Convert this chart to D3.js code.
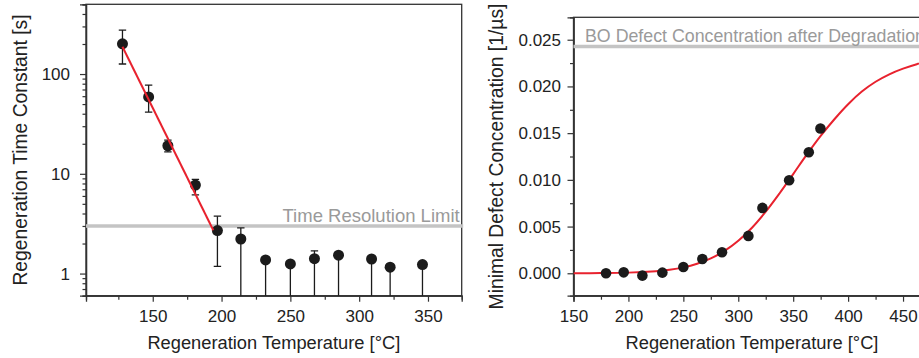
<!DOCTYPE html>
<head>
<title>Regeneration charts</title>
<script src="https://d3js.org/d3.v7.min.js"></script>
<style>
  body { margin: 0; background: #fff; }
  text { font-family: "Liberation Sans", Arial, sans-serif; fill: #222; }
</style>
</head>
<body>
<div id="my_dataviz"></div>
<script>

// left panel: regeneration time constant vs temperature
const leftTemp  = [128, 147, 161, 181, 197, 214, 232, 250, 267.5, 285, 309, 322.5, 346];
const leftTau   = [201, 59, 19.1, 7.7, 2.7, 2.22, 1.37, 1.25, 1.41, 1.53, 1.40, 1.16, 1.23];
const leftTauHi = [276, 77.5, 21.8, 8.8, 3.76, 2.87, 1.45, 1.32, 1.69, 1.62, 1.48, 1.22, 1.30];
const leftTauLo = [126, 41.6, 16.6, 6.15, 1.18, 0, 0, 0, 0, 0, 0, 0, 0];   // 0 = bar runs below axis
const leftFitTemp = [128, 194];
const leftFitTau  = [188, 2.72];
const timeLimit = 3;
const leftXTicks = [150, 200, 250, 300, 350];
const leftYTicks = [1, 10, 100];

// right panel: minimal defect concentration vs temperature
const rightTemp = [179.6, 195.7, 212.7, 230.9, 250, 267.3, 285.2, 309.2, 322, 346.3, 364.2, 374.8];
const rightConc = [0.0000, 0.0001, -0.00025, 0.00007, 0.00068, 0.00153, 0.00225, 0.0040, 0.0070, 0.00996, 0.01296, 0.0155];
const rightFitTemp = [150, 175, 200, 225, 237.5, 250, 262.5, 275, 287.5, 300, 312.5, 325, 337.5, 350, 362.5, 375, 387.5, 400, 412.5, 425, 437.5, 450, 462.5, 475];
const rightFitConc = [0, 0.00002, 0.00007, 0.00023, 0.00038, 0.00063, 0.00102, 0.00159, 0.00239, 0.00348, 0.00488, 0.00659, 0.00854, 0.01062, 0.01272, 0.01470, 0.01649, 0.01810, 0.01945, 0.02050, 0.02130, 0.02190, 0.02238, 0.02275];
const boLevel = 0.02428;
const rightXTicks = [150, 200, 250, 300, 350, 400, 450];
const rightYTicks = [0, 0.005, 0.010, 0.015, 0.020, 0.025];

var width = 919, height = 358;
var red = "#e8222e", dot = "#1b1b1b", grey = "#c4c4c4";

var svg = d3.select("#my_dataviz")
  .append("svg")
    .attr("width", width)
    .attr("height", height);

// ---------- left panel ----------
var L = {left: 86, right: 461.7, top: 4.3, bottom: 295.7};

var xL = d3.scaleLinear().domain([101.5, 374.5]).range([L.left, L.right]);
var yL = d3.scaleLog().domain([0.6, 500]).range([L.bottom, L.top]);

var gL = svg.append("g");

gL.append("defs").append("clipPath").attr("id", "clipL")
  .append("rect").attr("x", L.left).attr("y", L.top)
  .attr("width", L.right - L.left).attr("height", L.bottom - L.top);

// minor ticks
gL.append("g")
  .attr("transform", "translate(0," + L.bottom + ")")
  .call(d3.axisBottom(xL).tickValues(d3.range(125, 375, 50)).tickSize(4).tickFormat(""));
var minorLog = [];
[0.1, 1, 10, 100].forEach(function(d) { for (var k = 2; k <= 9; k++) { var v = d * k; if (v >= 0.6 && v <= 500) minorLog.push(v); } });
gL.append("g")
  .attr("transform", "translate(" + L.left + ",0)")
  .call(d3.axisLeft(yL).tickValues(minorLog).tickSize(3.5).tickFormat(""));

// major axes
gL.append("g")
  .attr("transform", "translate(0," + L.bottom + ")")
  .call(d3.axisBottom(xL).tickValues(leftXTicks).tickSize(6).tickPadding(8.3).tickFormat(d3.format("d")));
gL.append("g")
  .attr("transform", "translate(" + L.left + ",0)")
  .call(d3.axisLeft(yL).tickValues(leftYTicks).tickSize(6).tickPadding(10).tickFormat(d3.format("d")));

// frame
gL.append("rect")
  .attr("x", L.left).attr("y", L.top)
  .attr("width", L.right - L.left).attr("height", L.bottom - L.top)
  .attr("fill", "none").attr("stroke", "#333").attr("stroke-width", 1.3);

// time resolution limit
gL.append("line")
  .attr("x1", L.left).attr("x2", L.right + 1.5)
  .attr("y1", yL(timeLimit)).attr("y2", yL(timeLimit))
  .attr("stroke", grey).attr("stroke-width", 3.5);
gL.append("text")
  .attr("x", L.right - 2).attr("y", yL(timeLimit) - 3.5)
  .attr("text-anchor", "end")
  .style("font-size", "18.5px").style("fill", "#9a9a9a")
  .text("Time Resolution Limit");

// error bars
var errL = gL.append("g").attr("clip-path", "url(#clipL)");
var yMinL = yL.domain()[0];
leftTemp.forEach(function(t, i) {
  var hi = leftTauHi[i], lo = Math.max(leftTauLo[i], yMinL * 0.8);
  errL.append("line")
    .attr("x1", xL(t)).attr("x2", xL(t))
    .attr("y1", yL(hi)).attr("y2", yL(lo))
    .attr("stroke", dot).attr("stroke-width", 1.3);
  errL.append("line")
    .attr("x1", xL(t) - 3.7).attr("x2", xL(t) + 3.7)
    .attr("y1", yL(hi)).attr("y2", yL(hi))
    .attr("stroke", dot).attr("stroke-width", 1.3);
  if (leftTauLo[i] > 0) {
    errL.append("line")
      .attr("x1", xL(t) - 3.7).attr("x2", xL(t) + 3.7)
      .attr("y1", yL(lo)).attr("y2", yL(lo))
      .attr("stroke", dot).attr("stroke-width", 1.3);
  }
});

// markers
gL.selectAll("circle.pt")
  .data(leftTemp)
  .enter()
  .append("circle")
    .attr("cx", function(d) { return xL(d); })
    .attr("cy", function(d, i) { return yL(leftTau[i]); })
    .attr("r", 5.5)
    .attr("fill", dot);

// fit line
gL.append("path")
  .datum(leftFitTemp.map(function(t, i) { return [t, leftFitTau[i]]; }))
  .attr("fill", "none").attr("stroke", red).attr("stroke-width", 2)
  .attr("d", d3.line().x(function(d) { return xL(d[0]); }).y(function(d) { return yL(d[1]); }));

// titles
gL.append("text")
  .attr("x", (L.left + L.right) / 2).attr("y", 349)
  .attr("text-anchor", "middle").style("font-size", "18.3px")
  .text("Regeneration Temperature [°C]");
gL.append("text")
  .attr("transform", "translate(27," + (L.top + L.bottom) / 2 + ")rotate(-90)")
  .attr("text-anchor", "middle").style("font-size", "19.3px")
  .text("Regeneration Time Constant [s]");

// ---------- right panel ----------
var R = {left: 573.5, right: 930.5, top: 17.3, bottom: 295.7};

var xR = d3.scaleLinear().domain([150, 475]).range([R.left, R.right]);
var yR = d3.scaleLinear().domain([-0.0024, 0.0274]).range([R.bottom, R.top]);

var gR = svg.append("g");

gR.append("defs").append("clipPath").attr("id", "clipR")
  .append("rect").attr("x", R.left).attr("y", R.top)
  .attr("width", R.right - R.left).attr("height", R.bottom - R.top);

gR.append("g")
  .attr("transform", "translate(0," + R.bottom + ")")
  .call(d3.axisBottom(xR).tickValues(d3.range(175, 500, 50)).tickSize(4).tickFormat(""));
gR.append("g")
  .attr("transform", "translate(" + R.left + ",0)")
  .call(d3.axisLeft(yR).tickValues(d3.range(0.0025, 0.0275, 0.005)).tickSize(3.5).tickFormat(""));

gR.append("g")
  .attr("transform", "translate(0," + R.bottom + ")")
  .call(d3.axisBottom(xR).tickValues(rightXTicks).tickSize(6).tickPadding(8.3).tickFormat(d3.format("d")));
gR.append("g")
  .attr("transform", "translate(" + R.left + ",0)")
  .call(d3.axisLeft(yR).tickValues(rightYTicks).tickSize(6).tickPadding(6.5).tickFormat(d3.format(".3f")));

gR.append("rect")
  .attr("x", R.left).attr("y", R.top)
  .attr("width", R.right - R.left).attr("height", R.bottom - R.top)
  .attr("fill", "none").attr("stroke", "#333").attr("stroke-width", 1.3);

gR.append("line")
  .attr("x1", R.left).attr("x2", R.right)
  .attr("y1", yR(boLevel)).attr("y2", yR(boLevel))
  .attr("stroke", grey).attr("stroke-width", 3.5);
gR.append("text")
  .attr("x", R.left + 11.5).attr("y", yR(boLevel) - 4)
  .style("font-size", "17.8px").style("fill", "#9a9a9a")
  .text("BO Defect Concentration after Degradation");

gR.append("path")
  .datum(rightFitTemp.map(function(t, i) { return [t, rightFitConc[i]]; }))
  .attr("clip-path", "url(#clipR)")
  .attr("fill", "none").attr("stroke", red).attr("stroke-width", 2)
  .attr("d", d3.line().curve(d3.curveCatmullRom)
    .x(function(d) { return xR(d[0]); }).y(function(d) { return yR(d[1]); }));

gR.selectAll("circle.pt")
  .data(rightTemp)
  .enter()
  .append("circle")
    .attr("cx", function(d) { return xR(d); })
    .attr("cy", function(d, i) { return yR(rightConc[i]); })
    .attr("r", 5.3)
    .attr("fill", dot);

gR.append("text")
  .attr("x", (R.left + R.right) / 2).attr("y", 349)
  .attr("text-anchor", "middle").style("font-size", "18.3px")
  .text("Regeneration Temperature [°C]");
gR.append("text")
  .attr("transform", "translate(503," + (R.top + R.bottom) / 2 + ")rotate(-90)")
  .attr("text-anchor", "middle").style("font-size", "19.3px")
  .text("Minimal Defect Concentration [1/µs]");

// axis styling
svg.selectAll(".domain").attr("stroke", "#333").attr("stroke-width", 1.3);
svg.selectAll(".tick line").attr("stroke", "#333").attr("stroke-width", 1.2);
svg.selectAll(".tick text").style("font-size", "17px").style("fill", "#222")
  .style("font-family", "'Liberation Sans', Arial, sans-serif");

</script>
</body>
</html>
